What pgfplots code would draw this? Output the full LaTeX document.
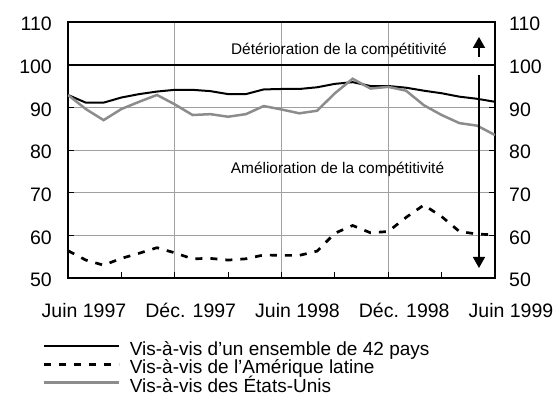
\documentclass[border=0pt]{standalone}
\usepackage{fontspec}
\setmainfont{Liberation Sans}
\usepackage{pgfplots}
\pgfplotsset{compat=1.18}
\usetikzlibrary{arrows.meta}

\definecolor{serieGris}{RGB}{140,140,140}
\definecolor{grille}{RGB}{160,160,160}

% m = mois depuis juin 1997
\pgfplotstableread{
m  ens42  amlat  eu
0  92.9   56.4   92.9
1  91.1   54.2   89.6
2  91.1   53.0   87.0
3  92.3   54.6   89.6
4  93.1   55.8   91.3
5  93.7   57.1   92.9
6  94.1   55.9   90.7
7  94.1   54.5   88.2
8  93.8   54.6   88.4
9  93.1   54.2   87.8
10 93.1   54.5   88.4
11 94.2   55.4   90.3
12 94.3   55.3   89.5
13 94.3   55.3   88.6
14 94.7   56.3   89.2
15 95.5   60.5   93.3
16 95.9   62.3   96.7
17 95.0   60.6   94.4
18 95.0   60.9   94.8
19 94.6   64.2   93.9
20 93.9   67.1   90.5
21 93.3   64.4   88.2
22 92.5   60.9   86.3
23 92.0   60.3   85.7
24 91.3   60.1   83.5
}\competitivite

\begin{document}
\begin{tikzpicture}
\useasboundingbox (-68pt,-124pt) rectangle (492pt,278pt);
\begin{axis}[
  scale only axis,
  width=427pt, height=256pt,
  xmin=0, xmax=24, ymin=50, ymax=110,
  xtick={0,6,12,18,24},
  xticklabels={Juin 1997,Déc. 1997,Juin 1998,Déc. 1998,Juin 1999},
  minor xtick={3,9,15,21},
  ytick={50,60,...,110},
  xtick pos=bottom, ytick pos=both,
  major tick length=6pt, minor tick length=6pt,
  tick style={black, line width=1pt},
  xmajorgrids, ymajorgrids,
  major grid style={grille, line width=1pt},
  axis line style={black, line width=1.5pt},
  /pgf/number format/assume math mode=true,
  tick label style={font=\fontsize{19.5}{20}\selectfont},
  yticklabel style={anchor=east, inner sep=0pt, xshift=-16pt, yshift=-2pt},
  xticklabel style={anchor=north, inner sep=0pt, yshift=-25pt, xshift=16pt},
  legend style={
    at={(rel axis cs:-0.061,-0.25)}, anchor=north west,
    draw=none, fill=none, inner sep=0pt, row sep=1.5pt, column sep=0pt,
    font=\fontsize{19}{17}\selectfont,
    nodes={inner sep=0pt, text height=13pt, text depth=4pt, anchor=west},
  },
  legend cell align=left,
  legend image code/.code={\draw[#1] (0pt,5pt) -- (75pt,5pt);},
]
\addplot[black, line width=2pt, forget plot] coordinates {(0,100) (24,100)};
\addplot[black, line width=2pt] table[x=m, y=ens42] {\competitivite};
\addlegendentry{\hspace{10pt}Vis-à-vis d’un ensemble de 42 pays}
\addplot[black, line width=2.7pt, dash pattern=on 7pt off 8pt] table[x=m, y=amlat] {\competitivite};
\addlegendentry{\hspace{10pt}Vis-à-vis de l’Amérique latine}
\addplot[serieGris, line width=2.5pt] table[x=m, y=eu] {\competitivite};
\addlegendentry{\hspace{10pt}Vis-à-vis des États-Unis}

\node[anchor=base, font=\fontsize{15.4}{17}\selectfont] at (axis cs:15.23,102.4) {Détérioration de la compétitivité};
\node[anchor=base, font=\fontsize{15.4}{17}\selectfont] at (axis cs:15.15,74.4) {Amélioration de la compétitivité};
\draw[black, line width=1.5pt, -{Triangle[width=12pt,length=11pt]}] (axis cs:23.1,101.8) -- (axis cs:23.1,106.5);
\draw[black, line width=1.5pt, -{Triangle[width=12pt,length=11pt]}] (axis cs:23.1,97.6) -- (axis cs:23.1,52.35);
\end{axis}
\begin{axis}[
  scale only axis,
  width=427pt, height=256pt,
  xmin=0, xmax=24, ymin=50, ymax=110,
  hide x axis,
  axis y line*=right,
  y axis line style={draw=none},
  ytick={50,60,...,110},
  major tick length=0pt,
  /pgf/number format/assume math mode=true,
  tick label style={font=\fontsize{19.5}{20}\selectfont},
  yticklabel style={anchor=west, inner sep=0pt, xshift=14pt, yshift=-2pt},
]
\end{axis}
\end{tikzpicture}
\end{document}
